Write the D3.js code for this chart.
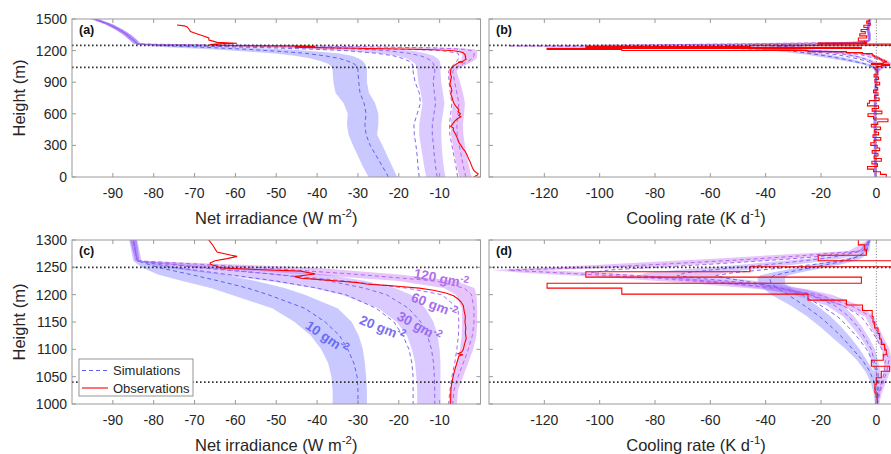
<!DOCTYPE html>
<html>
<head>
<meta charset="utf-8">
<script src="https://cdn.jsdelivr.net/npm/d3@7"></script>
<style>
  body { margin: 0; background: #fff; }
  svg { font-family: "Liberation Sans", Arial, sans-serif; }
</style>
</head>
<body>
<div id="chart"></div>
<script>
// ---- net irradiance profiles (W m-2) ----
const heightsN = [0,100,200,300,400,500,600,700,800,900,1000,1025,1050,1075,1100,1125,1150,1175,1200,1212,1225,1237,1250,1262,1300,1350,1400,1450,1500];

const net10Lo = [-27.4,-28.8,-30,-31.2,-32.3,-32.7,-32.5,-33.5,-35.5,-36,-36.2,-36.2,-36.5,-37.3,-39,-41.5,-45.5,-51,-61,-66,-73,-79,-83,-85,-86,-87.5,-89.5,-92,-95.5];
const net10   = [-22.5,-24,-25.5,-27,-28,-28.3,-28,-28.5,-29.5,-29.8,-30,-30,-30.2,-31,-32.5,-34.5,-38,-43,-52,-57,-64,-71,-79,-84,-85,-86.5,-88.5,-91,-94.5];
const net10Hi = [-20.4,-21.6,-22.8,-24,-25.3,-25,-25,-25.8,-27.3,-27.8,-27.8,-27.8,-28,-28.3,-28.8,-29.8,-31.5,-35,-43,-48,-55,-63,-74,-83,-84,-85.5,-87.5,-90,-93.5];

const net20 = [-15,-15.3,-15.5,-15.8,-16.2,-16.3,-15.5,-14.7,-15,-16,-16.5,-16.5,-16.5,-16.8,-17.5,-19,-21.2,-25.5,-33,-40,-50,-62,-75,-84,-85,-86.5,-88.5,-91,-94.5];

const net30Lo = [-13.3,-13.8,-14.2,-14.6,-15,-15,-14.6,-14.2,-14.6,-15.2,-15.5,-15.5,-15.7,-16,-16.8,-18,-20.5,-25,-34,-41,-52,-64,-78,-84.5,-85.8,-87.3,-89.3,-91.8,-95.3];
const net30   = [-10.6,-11,-11.3,-11.5,-11.8,-11.8,-11.4,-11,-11.3,-11.6,-11.2,-11.2,-11.3,-11.5,-12,-13,-14.6,-17.6,-23,-28.5,-37,-50,-70,-84,-85,-86.5,-88.5,-91,-94.5];
const net30Hi = [-8.6,-9,-9.3,-9.5,-9.6,-9.6,-9.2,-8.8,-9.2,-9.6,-9.8,-9.8,-9.8,-9.8,-10,-10.5,-11.5,-13.5,-17,-21,-28,-38,-58,-83.5,-84.2,-85.7,-87.7,-90.2,-93.7];

const net60 = [-5.6,-6,-6.5,-7,-7.5,-7.6,-7.3,-7,-7.4,-7.7,-7.8,-7.5,-7,-6.3,-5.8,-5.4,-5.3,-5.5,-9.5,-18,-33,-50,-68,-84,-85,-86.5,-88.5,-91,-94.5];

const net120Lo = [-5.2,-5.8,-6.3,-6.8,-7.2,-7.3,-7,-6.8,-7.2,-7.6,-7.8,-7.5,-6.8,-5.8,-5,-4.6,-4.5,-4.6,-6,-9,-20,-42,-70,-84.5,-85.8,-87.3,-89.3,-91.8,-95.3];
const net120   = [-3.6,-4.2,-4.7,-5.2,-5.7,-5.8,-5.5,-5.3,-5.8,-6.3,-6.8,-6.5,-5.5,-4.2,-3,-2,-1.6,-1.6,-2.2,-4,-11,-30,-55,-84,-85,-86.5,-88.5,-91,-94.5];
const net120Hi = [-2.2,-2.8,-3.3,-3.8,-4.2,-4.3,-4,-3.8,-4.3,-5,-5.8,-5.5,-4.3,-3,-1.8,-1,-0.8,-0.8,-1,-1.5,-6,-20,-42,-83.5,-84.2,-85.7,-87.7,-90.2,-93.7];

// observed net irradiance (value, height)
const obsNetH = [1443,1435,1425,1400,1380,1360,1340,1320,1300,1290,1278,1272,1270,1266,1262,1258,1255,1252,1249,1246,1243,1240,1238,1236,1233,1230,1228,1225,1222,1219,1217,1215,1212,1208,1203,1198,1192,1187,1180,1170,1160,1150,1140,1130,1120,1110,1100,1095,1092,1090,1088,1080,1070,1060,1050,1040,1030,1015,1000,980,950,920,880,850,820,790,760,730,700,670,640,620,600,585,570,555,530,500,480,465,445,420,390,360,330,300,270,240,210,180,150,120,90,60,40,30,20,10,0];
const obsNet  = [-74.3,-72.5,-71.8,-71.3,-71,-69.5,-68,-66.5,-66.5,-65.5,-64.5,-61,-59.6,-62,-65,-66.2,-66,-64.5,-63.7,-55,-44,-42,-40.5,-42.5,-45.5,-44,-40,-35,-30,-27.5,-23,-19.6,-15,-11.5,-8.5,-6.6,-5.5,-4.8,-4.2,-4,-3.7,-3.8,-3.6,-3.7,-3.5,-3.9,-4.2,-4.6,-5.5,-4.3,-5.3,-5.6,-6,-6.4,-6.7,-7,-7.2,-7.3,-7.3,-7.4,-7.1,-7.3,-7.5,-7.2,-7,-7.3,-7,-6.8,-6.5,-6,-5.3,-5.5,-4.9,-5.3,-4.8,-5.6,-6.3,-6.9,-7.3,-6.6,-6.7,-6.3,-5.9,-5.6,-5.3,-4.8,-4.3,-3.7,-3.3,-3,-2.6,-2.3,-2,-1.6,-1,-0.6,-0.7,-1.2,-1.6];

// ---- cooling rate profiles (K d-1) ----
const heightsC = [0,250,500,750,1000,1020,1040,1060,1080,1100,1120,1140,1160,1180,1200,1210,1220,1230,1235,1240,1245,1250,1255,1260,1265,1270,1280,1300,1350,1400,1450,1500];

const cool10Lo = [-0.8,-0.9,-1,-0.9,-0.5,-1,-2,-4,-7,-11,-15.5,-20,-25,-31,-38,-40.5,-42.5,-43,-42,-38,-33,-28,-23,-17,-12,-8.5,-4.5,-3,-3.2,-3.6,-3.3,-3];
const cool10   = [-0.3,-0.4,-0.5,-0.4,0,-0.2,-0.8,-2.4,-5,-8.5,-12,-16,-20.5,-26,-32,-35,-38,-38.5,-37,-33,-28,-23,-18,-13,-9,-6.5,-3.5,-2.5,-2.6,-3,-2.7,-2.4];
const cool10Hi = [0.2,0.1,0,0.1,0.5,0.5,0.3,-1,-3.5,-6,-9,-12.5,-16.5,-21.5,-27,-30,-33,-33,-32,-28,-23,-18,-13,-9,-6,-4.5,-2.5,-2,-2,-2.4,-2.1,-1.8];

const cool20 = [-0.3,-0.4,-0.5,-0.4,0,0.5,0.5,0,-1.5,-3.5,-6.5,-10,-14,-20,-27,-33,-42,-54,-58,-52,-42,-32,-23,-16,-10,-6.5,-3.5,-2.5,-2.6,-3,-2.7,-2.4];

const cool30Lo = [-0.8,-0.9,-1,-0.9,-0.5,-0.2,0,-1,-2,-3,-5.5,-8.5,-12,-18,-30,-40,-56,-78,-86,-83,-72,-60,-48,-38,-27,-18,-6,-3,-3.2,-3.6,-3.3,-3];
const cool30   = [-0.3,-0.4,-0.5,-0.4,0,0.5,1,0.5,-0.8,-1.8,-4,-6.5,-10,-15,-24,-32,-44,-64,-72,-69,-60,-50,-39,-30,-21,-14,-5,-2.5,-2.6,-3,-2.7,-2.4];
const cool30Hi = [0.2,0.1,0,0.1,0.5,1.2,2,1.5,0.5,-0.5,-2.5,-5,-8,-12,-19,-26,-35,-52,-58,-55,-47,-38,-29,-21,-14,-9,-3.5,-2,-2,-2.4,-2.1,-1.8];

const cool60 = [-0.3,-0.4,-0.5,-0.4,0,1,2,3,3.2,2,0,-2.5,-5.5,-12,-24,-34,-50,-72,-87,-103,-97,-80,-62,-47,-32,-20,-6,-2.5,-2.6,-3,-2.7,-2.4];

const cool120Lo = [-0.8,-0.9,-1,-0.9,0,0.5,1.5,2.5,3,2,0,-2,-4,-13,-28,-42,-65,-93,-110,-128,-139,-118,-98,-80,-62,-45,-10,-3,-3.2,-3.6,-3.3,-3];
const cool120   = [-0.3,-0.4,-0.5,-0.4,0.5,1.2,2.5,3.8,4.5,3.5,1.5,-0.5,-2,-9,-21,-33,-53,-80,-97,-115,-133,-100,-80,-62,-45,-30,-6,-2.5,-2.6,-3,-2.7,-2.4];
const cool120Hi = [0.2,0.1,0,0.1,1,2,3.5,5,5.5,4.8,2.8,0.8,-0.8,-6,-16,-25,-42,-67,-83,-100,-120,-85,-65,-47,-32,-20,-4,-2,-2,-2.4,-2.1,-1.8];

// observed cooling rate, binned (edges from top to bottom, one value per bin)
const obsCoolEdges = [1500,1480,1460,1440,1420,1400,1380,1360,1340,1320,1302,1291,1282,1272,1262,1251,1242,1232,1221,1212,1201,1190,1181,1171,1160,1150,1139,1129,1119,1109,1099,1090,1080,1069,1060,1048,1036,1020,
  1000,975,950,925,900,875,850,825,800,775,750,725,700,675,650,625,600,575,550,525,500,475,450,425,400,375,350,325,300,275,250,225,200,175,150,125,100,75,50,25,0];
const obsCool = [-2.5,-3.5,-2.2,-4.5,-3,-5.5,-4,-6,-3.5,-6.5,-6.5,-4.2,-3.6,-21,8,-45.7,-105,-5.4,-119,-92,-24.7,-10.8,-5,-1.5,-1.2,-0.6,0.6,1.2,1.8,3,3.6,2.5,-1.8,4.8,1.8,0,-0.5,0.3,
  0.5,-0.8,0.8,-0.5,1.2,-0.3,0.5,-1,0.6,-0.6,1,-2.5,-3.2,0.8,-1.5,2,-3,-1,4.2,0.5,-1.8,1.5,-0.6,0.8,-1.2,1.6,-0.8,-2,0.3,1.2,-1.5,0.6,-0.8,1.8,-1.6,0.4,-3.2,-1,1.5,3.6];

// cloud top / base heights (m)
const cloudTop = 1250, cloudBase = 1040;

// ---- layout ----
const W = 891, H = 454;
const svg = d3.select("#chart").append("svg").attr("width", W).attr("height", H);

const frameColor = "#9a9a9a", textColor = "#262626";
const colors = { c10: "#5f5ff2", c20: "#7466f2", c30: "#8a66f0", c60: "#a466ee", c120: "#b466ee" };
const bandFill = { c10: "#6464ff", c30: "#9966ff", c120: "#b45af0" };

function zip(hs, lo, mid, hi) {
  return hs.map((h, i) => ({ h: h, lo: lo ? lo[i] : null, v: mid[i], hi: hi ? hi[i] : null }));
}

function stepPoints(edges, vals) {
  const pts = [];
  vals.forEach((v, i) => { pts.push({ v: v, h: edges[i] }); pts.push({ v: v, h: edges[i + 1] }); });
  return pts;
}

function makePanel(id, box, xDom, yDom, xTicks, yTicks, yLabels) {
  const x = d3.scaleLinear().domain(xDom).range([box.x0, box.x1]);
  const y = d3.scaleLinear().domain(yDom).range([box.y1, box.y0]);
  svg.append("clipPath").attr("id", "clip" + id)
    .append("rect").attr("x", box.x0).attr("y", box.y0)
    .attr("width", box.x1 - box.x0).attr("height", box.y1 - box.y0);
  const g = svg.append("g").attr("clip-path", `url(#clip${id})`);

  // frame + inward ticks
  const f = svg.append("g").attr("stroke", frameColor).attr("fill", "none");
  f.append("rect").attr("x", box.x0).attr("y", box.y0)
    .attr("width", box.x1 - box.x0).attr("height", box.y1 - box.y0).attr("stroke-width", 1);
  xTicks.forEach(t => {
    f.append("line").attr("x1", x(t)).attr("x2", x(t)).attr("y1", box.y1).attr("y2", box.y1 - 4);
    f.append("line").attr("x1", x(t)).attr("x2", x(t)).attr("y1", box.y0).attr("y2", box.y0 + 4);
    svg.append("text").attr("x", x(t)).attr("y", box.y1 + 21)
      .attr("text-anchor", "middle").attr("font-size", 14).attr("fill", textColor).text(String(t));
  });
  yTicks.forEach(t => {
    f.append("line").attr("x1", box.x0).attr("x2", box.x0 + 4).attr("y1", y(t)).attr("y2", y(t));
    f.append("line").attr("x1", box.x1).attr("x2", box.x1 - 4).attr("y1", y(t)).attr("y2", y(t));
    if (yLabels) {
      svg.append("text").attr("x", box.x0 - 5).attr("y", y(t)).attr("dy", "0.36em")
        .attr("text-anchor", "end").attr("font-size", 14).attr("fill", textColor).text(String(t));
    }
  });
  // panel letter
  svg.append("text").attr("x", box.x0 + 7).attr("y", box.y0 + 15)
    .attr("font-size", 12.5).attr("font-weight", "bold").attr("fill", "#111").text(`(${id})`);
  return { x, y, g, box };
}

function drawBand(p, data, key) {
  p.g.append("path").datum(data)
    .attr("fill", bandFill[key]).attr("fill-opacity", 0.35).attr("stroke", "none")
    .attr("d", d3.area().y(d => p.y(d.h)).x0(d => p.x(d.lo)).x1(d => p.x(d.hi)));
}

function drawLine(p, data, color, dashed, width) {
  p.g.append("path").datum(data)
    .attr("fill", "none").attr("stroke", color).attr("stroke-width", width || 1)
    .attr("stroke-dasharray", dashed ? "4,3" : null)
    .attr("d", d3.line().x(d => p.x(d.v)).y(d => p.y(d.h)));
}

function drawDotted(p, zeroLine) {
  [cloudTop, cloudBase].forEach(h => {
    p.g.append("line").attr("x1", p.box.x0).attr("x2", p.box.x1)
      .attr("y1", p.y(h)).attr("y2", p.y(h))
      .attr("stroke", "#333").attr("stroke-width", 1.7).attr("stroke-dasharray", "1.6,2.4");
  });
  if (zeroLine) {
    p.g.append("line").attr("x1", p.x(0)).attr("x2", p.x(0))
      .attr("y1", p.box.y0).attr("y2", p.box.y1)
      .attr("stroke", "#555").attr("stroke-width", 0.8).attr("stroke-dasharray", "1,1.8");
  }
}

function axisTitle(cx, yb, main, sup, close) {
  const t = svg.append("text").attr("x", cx).attr("y", yb).attr("text-anchor", "middle")
    .attr("font-size", 16.5).attr("fill", textColor);
  t.append("tspan").text(main);
  t.append("tspan").attr("dy", -7).attr("font-size", 11.5).text(sup);
  t.append("tspan").attr("dy", 7).text(close);
}

function yTitle(p) {
  const cy = (p.box.y0 + p.box.y1) / 2;
  svg.append("text").attr("transform", `translate(25,${cy}) rotate(-90)`)
    .attr("text-anchor", "middle").attr("font-size", 16.5).attr("fill", textColor).text("Height (m)");
}

// ---- net irradiance panels ----
const n10 = zip(heightsN, net10Lo, net10, net10Hi);
const n20 = zip(heightsN, null, net20, null);
const n30 = zip(heightsN, net30Lo, net30, net30Hi);
const n60 = zip(heightsN, null, net60, null);
const n120 = zip(heightsN, net120Lo, net120, net120Hi);
const obsN = obsNetH.map((h, i) => ({ h: h, v: obsNet[i] }));

const netTicks = [-90, -80, -70, -60, -50, -40, -30, -20, -10];
const coolTicks = [-120, -100, -80, -60, -40, -20, 0];

function netPanel(id, box, yDom, yTicks) {
  const p = makePanel(id, box, [-100, 0], yDom, netTicks, yTicks, true);
  drawBand(p, n10, "c10");
  drawBand(p, n30, "c30");
  drawBand(p, n120, "c120");
  drawLine(p, n10, colors.c10, true);
  drawLine(p, n20, colors.c20, true);
  drawLine(p, n30, colors.c30, true);
  drawLine(p, n60, colors.c60, true);
  drawLine(p, n120, colors.c120, true);
  drawLine(p, obsN, "#ff0000", false, 1.1);
  drawDotted(p, false);
  yTitle(p);
  axisTitle((box.x0 + box.x1) / 2, box.y1 + 47, "Net irradiance (W m", "-2", ")");
  return p;
}

// ---- cooling rate panels ----
const k10 = zip(heightsC, cool10Lo, cool10, cool10Hi);
const k20 = zip(heightsC, null, cool20, null);
const k30 = zip(heightsC, cool30Lo, cool30, cool30Hi);
const k60 = zip(heightsC, null, cool60, null);
const k120 = zip(heightsC, cool120Lo, cool120, cool120Hi);
const obsK = stepPoints(obsCoolEdges, obsCool);

function coolPanel(id, box, yDom, yTicks) {
  const p = makePanel(id, box, [-140, 10], yDom, coolTicks, yTicks, false);
  drawBand(p, k10, "c10");
  drawBand(p, k30, "c30");
  drawBand(p, k120, "c120");
  drawLine(p, k10, colors.c10, true);
  drawLine(p, k20, colors.c20, true);
  drawLine(p, k30, colors.c30, true);
  drawLine(p, k60, colors.c60, true);
  drawLine(p, k120, colors.c120, true);
  drawLine(p, obsK, "#ff0000", false, 1.1);
  drawDotted(p, true);
  axisTitle(696, box.y1 + 47, "Cooling rate (K d", "-1", ")");
  return p;
}

const pa = netPanel("a", { x0: 72, x1: 480.5, y0: 19, y1: 177 }, [0, 1500], [0, 300, 600, 900, 1200, 1500]);
const pb = coolPanel("b", { x0: 489, x1: 904, y0: 19, y1: 177 }, [0, 1500], [0, 300, 600, 900, 1200, 1500]);
const pc = netPanel("c", { x0: 72, x1: 480.5, y0: 240, y1: 404 }, [1000, 1300], [1000, 1050, 1100, 1150, 1200, 1250, 1300]);
const pd = coolPanel("d", { x0: 489, x1: 904, y0: 240, y1: 404 }, [1000, 1300], [1000, 1050, 1100, 1150, 1200, 1250, 1300]);

// ---- LWP labels in panel (c) ----
const lwpNames = ["10", "20", "30", "60", "120"];
const lwpAnchor = [[-37.6, 1122], [-24, 1139], [-15, 1142], [-11.3, 1181], [-9.6, 1230]];
const lwpAngle = [34, 22, 29, 21, 11];
const lwpColor = ["#6a6cf3", "#7a6ef3", "#9a6eef", "#a86eee", "#b46eee"];
lwpNames.forEach((n, i) => {
  const cx = pc.x(lwpAnchor[i][0]), cy = pc.y(lwpAnchor[i][1]);
  const t = svg.append("text").attr("transform", `translate(${cx},${cy}) rotate(${lwpAngle[i]})`)
    .attr("text-anchor", "middle").attr("dy", "0.35em")
    .attr("font-size", 13.5).attr("font-weight", "bold").attr("fill", lwpColor[i]);
  t.append("tspan").text(n + " gm");
  t.append("tspan").attr("dy", "-0.5em").attr("font-size", 10).text("-2");
});

// ---- legend in panel (c) ----
const lg = svg.append("g").attr("transform", "translate(79,359)");
lg.append("rect").attr("width", 114).attr("height", 37).attr("fill", "#fff").attr("stroke", "#7a7a7a").attr("stroke-width", 0.8);
lg.append("line").attr("x1", 3).attr("x2", 29).attr("y1", 11.5).attr("y2", 11.5)
  .attr("stroke", colors.c10).attr("stroke-dasharray", "4,3");
lg.append("line").attr("x1", 3).attr("x2", 29).attr("y1", 29).attr("y2", 29).attr("stroke", "#ff0000").attr("stroke-width", 1.1);
lg.append("text").attr("x", 34).attr("y", 16).attr("font-size", 13).attr("fill", textColor).text("Simulations");
lg.append("text").attr("x", 34).attr("y", 33.5).attr("font-size", 13).attr("fill", textColor).text("Observations");
</script>
</body>
</html>
